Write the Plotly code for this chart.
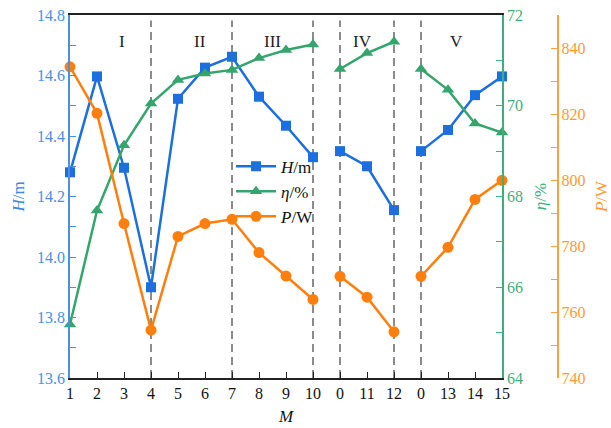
import plotly.graph_objects as go

# Operating points along the M axis (the two "0" entries are restart points)
m_labels = ["1", "2", "3", "4", "5", "6", "7", "8", "9", "10",
            "0", "11", "12", "0", "13", "14", "15"]

head_m = [14.28, 14.597, 14.295, 13.90, 14.523, 14.626, 14.662, 14.53, 14.434, 14.33,
          14.35, 14.30, 14.155, 14.35, 14.42, 14.535, 14.597]
eff_pct = [65.18, 67.69, 69.13, 70.05, 70.57, 70.71, 70.79, 71.05, 71.23, 71.35,
           70.81, 71.16, 71.41, 70.81, 70.35, 69.61, 69.41]
power_w = [834.3, 820.2, 786.8, 754.5, 782.9, 786.8, 788.1, 778.0, 770.9, 763.8,
           770.8, 764.5, 754.0, 770.8, 779.6, 794.1, 799.9]

# Index ranges of the separately connected segments
segments = [(0, 10), (10, 13), (13, 17)]

# Stage labels and the dashed boundaries between stages
stage_names = ["I", "II", "III", "IV", "V"]
stage_pos = [1.92, 4.8, 7.5, 10.85, 14.3]
boundaries = [3, 6, 9, 10, 12, 13]

BLUE = "#1c6fde"
GREEN = "#34a56c"
ORANGE = "#ff7f0e"
FONT = "Liberation Serif"


def broken(values):
    xs, ys = [], []
    for k, (a, b) in enumerate(segments):
        if k:
            xs.append(None)
            ys.append(None)
        xs.extend(range(a, b))
        ys.extend(values[a:b])
    return xs, ys


fig = go.Figure()

x, y = broken(head_m)
fig.add_trace(go.Scatter(x=x, y=y, name="<i>H</i>/m", yaxis="y", mode="lines+markers",
                         line=dict(color=BLUE, width=2.5),
                         marker=dict(symbol="square", size=10, color=BLUE),
                         cliponaxis=False))
x, y = broken(eff_pct)
fig.add_trace(go.Scatter(x=x, y=y, name="<i>η</i>/%", yaxis="y2", mode="lines+markers",
                         line=dict(color=GREEN, width=2.5),
                         marker=dict(symbol="triangle-up", size=11, color=GREEN),
                         cliponaxis=False))
x, y = broken(power_w)
fig.add_trace(go.Scatter(x=x, y=y, name="<i>P</i>/W", yaxis="y3", mode="lines+markers",
                         line=dict(color=ORANGE, width=2.5),
                         marker=dict(symbol="circle", size=11, color=ORANGE),
                         cliponaxis=False))

shapes = [dict(type="line", xref="x", yref="paper", x0=b, x1=b, y0=0, y1=0.985,
               line=dict(color="#7f7f7f", width=1.8, dash="8px,5px"), layer="below")
          for b in boundaries]

annotations = [dict(x=p, y=0.958, xref="x", yref="paper", text=n, showarrow=False,
                    font=dict(family=FONT, size=17, color="#222222"))
               for n, p in zip(stage_names, stage_pos)]

L, R, T, B = 70, 50, 15, 50
W = 611 - L - R
x_end = (502 - L) / W
p_pos = (557.5 - L) / W

fig.update_layout(
    width=611, height=428,
    margin=dict(l=L, r=R, t=T, b=B, autoexpand=False),
    paper_bgcolor="white", plot_bgcolor="white",
    font=dict(family=FONT, size=16),
    showlegend=True,
    legend=dict(x=0.328, y=0.632, xanchor="left", yanchor="top",
                bgcolor="rgba(0,0,0,0)", font=dict(family=FONT, size=17, color="#111111"),
                itemwidth=40, tracegroupgap=0),
    shapes=shapes,
    annotations=annotations,
    xaxis=dict(domain=[0, x_end], range=[0, 16], automargin=False,
               tickmode="array", tickvals=list(range(len(m_labels))), ticktext=m_labels,
               ticks="inside", ticklen=6, tickwidth=1.2, tickcolor="#222222",
               showline=True, linecolor="#222222", linewidth=1.5, mirror=True,
               showgrid=False, zeroline=False,
               tickfont=dict(family=FONT, size=16, color="#111111"),
               title=dict(text="<i>M</i>", font=dict(family=FONT, size=17, color="#111111"),
                          standoff=9)),
    yaxis=dict(range=[13.6, 14.8], dtick=0.2, tick0=13.6, tickformat=".1f", automargin=False,
               ticks="inside", ticklen=6, tickwidth=1.2, tickcolor="#4a8fe6",
               minor=dict(dtick=0.1, ticks="inside", ticklen=6, tickcolor="#4a8fe6"),
               showline=True, linecolor="#4a8fe6", linewidth=1.8,
               showgrid=False, zeroline=False,
               tickfont=dict(family=FONT, size=16, color="#4a8fe6"),
               title=dict(text="<i>H</i>/m", font=dict(family=FONT, size=17, color="#3d86e0"),
                          standoff=8)),
    yaxis2=dict(overlaying="y", side="right", anchor="x", range=[64, 72], dtick=2, tick0=64,
                automargin=False,
                ticks="inside", ticklen=6, tickwidth=1.2, tickcolor="#3fae7d",
                minor=dict(dtick=1, ticks="inside", ticklen=6, tickcolor="#3fae7d"),
                showline=True, linecolor="#3fae7d", linewidth=1.8,
                showgrid=False, zeroline=False,
                tickfont=dict(family=FONT, size=16, color="#3fae7d"),
                title=dict(text="<i>η</i>/%", font=dict(family=FONT, size=17, color="#3fae7d"),
                           standoff=12)),
    yaxis3=dict(overlaying="y", side="right", anchor="free", position=p_pos,
                range=[740, 850], dtick=20, tick0=740, automargin=False,
                ticks="inside", ticklen=6, tickwidth=1.2, tickcolor="#ffa040",
                minor=dict(dtick=10, ticks="inside", ticklen=6, tickcolor="#ffa040"),
                showline=True, linecolor="#ffa040", linewidth=1.8,
                showgrid=False, zeroline=False,
                tickfont=dict(family=FONT, size=16, color="#ff9a33"),
                title=dict(text="<i>P</i>/W", font=dict(family=FONT, size=17, color="#ff9a33"),
                           standoff=10)),
)

fig.write_html("out.html")
